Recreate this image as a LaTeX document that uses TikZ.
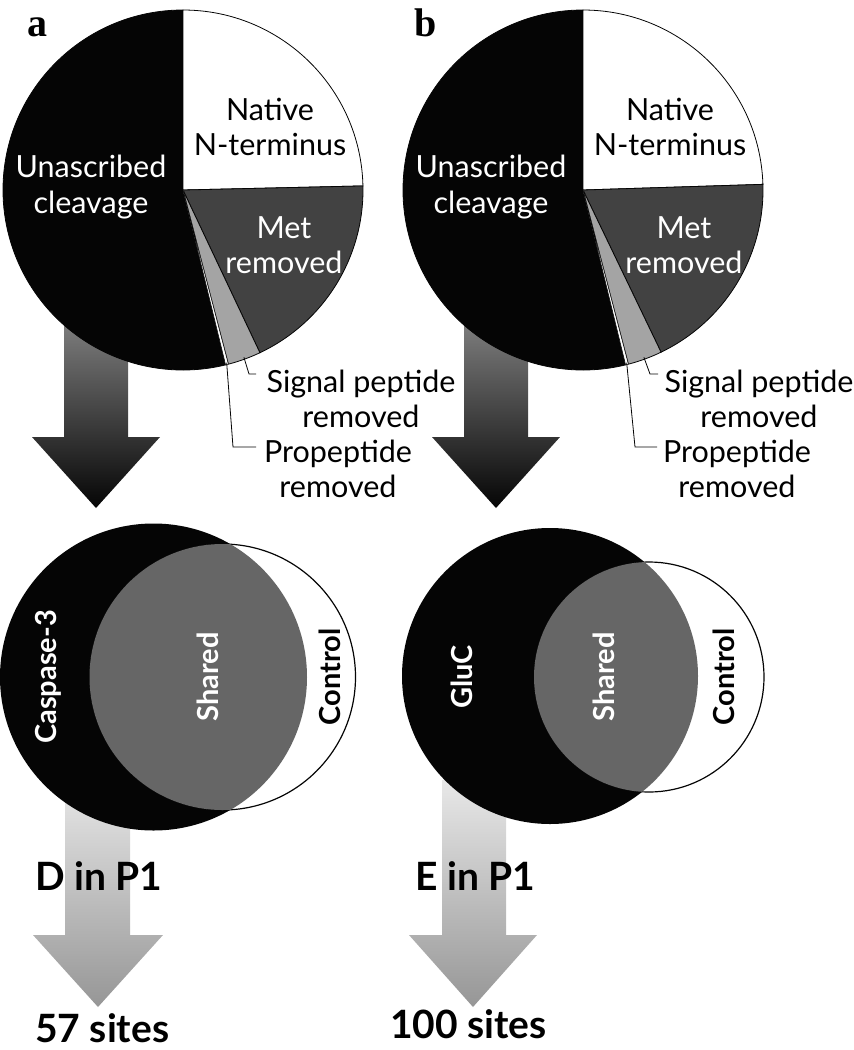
\documentclass[tikz,border=0pt]{standalone}
\usepackage{fontspec}
\setmainfont{Lato}
\newfontfamily\panelfont{Liberation Serif}
\usepackage{xcolor}
\definecolor{InkBlack}{HTML}{050505}
\definecolor{PieDark}{HTML}{424242}
\definecolor{PieLight}{HTML}{A4A4A4}
\definecolor{VennShared}{HTML}{666666}
\definecolor{ArrowDarkTop}{HTML}{8C8C8C}
\definecolor{ArrowLightTop}{HTML}{E8E8E8}
\definecolor{ArrowLightEnd}{HTML}{969696}
\usepackage{tikz}
\usetikzlibrary{positioning, calc}
\tikzset{
  % Pie styles
  slice/.style={draw=InkBlack, line width=0.8pt},
  pielabel/.style={font=\fontsize{30.5}{35.5}\selectfont, align=center, inner sep=0pt},
  leader/.style={draw=InkBlack, line width=0.8pt},
  % Venn styles
  vennlabel/.style={font=\bfseries\fontsize{29}{31}\selectfont, rotate=90, inner sep=0pt},
  % Arrow styles
  darkarrow/.style={top color=ArrowDarkTop, bottom color=InkBlack},
  lightarrow/.style={top color=ArrowLightTop, bottom color=ArrowLightEnd},
  % Text styles
  sitelabel/.style={font=\bfseries\fontsize{39}{44}\selectfont, inner sep=0pt, anchor=base west},
  panellabel/.style={font=\panelfont\bfseries\fontsize{40}{44}\selectfont, inner sep=0pt, anchor=base west}
}

\begin{document}
\begin{tikzpicture}[x=1pt, y=-1pt]
  \useasboundingbox (0,0) rectangle (854,1050);

  % Arrows from pie to Venn
  \shade[darkarrow] (64,300) -- (128,300) -- (128,437) -- (160,437) -- (96,508) -- (32,437) -- (64,437) -- cycle;
  \shade[darkarrow] (464,300) -- (528,300) -- (528,437) -- (560,437) -- (496,508) -- (432,437) -- (464,437) -- cycle;

  % Pie chart a
  \begin{scope}[shift={(183,190)}]
    \filldraw[slice, fill=InkBlack] (0,0) -- (90:180pt) arc[start angle=90, end angle=284, radius=180pt] -- cycle;
    \filldraw[slice, fill=white] (0,0) -- (1.3:180pt) arc[start angle=1.3, end angle=90, radius=180pt] -- cycle;
    \filldraw[slice, fill=PieDark] (0,0) -- (-64.7:180pt) arc[start angle=-64.7, end angle=1.3, radius=180pt] -- cycle;
    \filldraw[slice, fill=PieLight] (0,0) -- (-75.4:180pt) arc[start angle=-75.4, end angle=-64.7, radius=180pt] -- cycle;
    \filldraw[slice, line width=0.5pt, fill=white] (0,0) -- (-76.3:180pt) arc[start angle=-76.3, end angle=-75.4, radius=180pt] -- cycle;
    \coordinate (sigA) at (-70:178pt);
    \coordinate (proA) at (-75.8:178pt);
  \end{scope}

  % Pie chart b
  \begin{scope}[shift={(583,190)}]
    \filldraw[slice, fill=InkBlack] (0,0) -- (90:180pt) arc[start angle=90, end angle=284, radius=180pt] -- cycle;
    \filldraw[slice, fill=white] (0,0) -- (1.8:180pt) arc[start angle=1.8, end angle=90, radius=180pt] -- cycle;
    \filldraw[slice, fill=PieDark] (0,0) -- (-64.3:180pt) arc[start angle=-64.3, end angle=1.8, radius=180pt] -- cycle;
    \filldraw[slice, fill=PieLight] (0,0) -- (-75.4:180pt) arc[start angle=-75.4, end angle=-64.3, radius=180pt] -- cycle;
    \filldraw[slice, line width=0.5pt, fill=white] (0,0) -- (-76.3:180pt) arc[start angle=-76.3, end angle=-75.4, radius=180pt] -- cycle;
    \coordinate (sigB) at (-70:178pt);
    \coordinate (proB) at (-75.8:178pt);
  \end{scope}

  % Pie labels
  \node[pielabel] (nativeA) at (270,127) {Native\\N-terminus};
  \node[pielabel, text=white] (unascA) at (91,187) {Unascribed\\cleavage};
  \node[pielabel, text=white] (metA) at (284,245) {Met\\removed};
  \node[pielabel] (signalA) at (361,399) {Signal peptide\\removed};
  \node[pielabel] (propepA) at (338,469) {Propeptide\\removed};

  \node[pielabel] (nativeB) at (670,127) {Native\\N-terminus};
  \node[pielabel, text=white] (unascB) at (491,187) {Unascribed\\cleavage};
  \node[pielabel, text=white] (metB) at (684,245) {Met\\removed};
  \node[pielabel] (signalB) at (759,399) {Signal peptide\\removed};
  \node[pielabel] (propepB) at (737,469) {Propeptide\\removed};

  % Leader lines
  \coordinate (sigendA) at (256,374);
  \coordinate (proendA) at (256,447);
  \coordinate (sigendB) at (658,374);
  \coordinate (proendB) at (657,447);
  \draw[leader] (sigA) -- (249,374) -- (sigendA);
  \draw[leader] (proA) -- (233,447) -- (proendA);
  \draw[leader] (sigB) -- (650,374) -- (sigendB);
  \draw[leader] (proB) -- (635,447) -- (proendB);

  % Arrows from Venn to sites
  \shade[lightarrow] (65,780) -- (130,780) -- (130,935) -- (163,935) -- (98,1007) -- (33,935) -- (65,935) -- cycle;
  \shade[lightarrow] (442,780) -- (506,780) -- (506,935) -- (537,935) -- (473,1007) -- (409,935) -- (442,935) -- cycle;

  % Venn diagram a
  \fill[InkBlack] (153.5,677) circle[radius=153.5pt];
  \filldraw[fill=white, draw=InkBlack, line width=1.2pt] (222.5,677) circle[radius=133pt];
  \begin{scope}
    \clip (153.5,677) circle[radius=153.5pt];
    \fill[VennShared] (222.5,677) circle[radius=133pt];
  \end{scope}
  \node[vennlabel, text=white] (caspA) at (48,677) {Caspase-3};
  \node[vennlabel, text=white] (sharedA) at (208,677) {Shared};
  \node[vennlabel] (controlA) at (330,677) {Control};

  % Venn diagram b
  \fill[InkBlack] (550,676) circle[radius=148pt];
  \filldraw[fill=white, draw=InkBlack, line width=1.2pt] (649,677) circle[radius=115pt];
  \begin{scope}
    \clip (550,676) circle[radius=148pt];
    \fill[VennShared] (649,677) circle[radius=115pt];
  \end{scope}
  \node[vennlabel, text=white] (glucB) at (462,677) {GluC};
  \node[vennlabel, text=white] (sharedB) at (604,677) {Shared};
  \node[vennlabel] (controlB) at (724,677) {Control};

  % Site labels
  \node[sitelabel] (residueA) at (35,890) {D in P1};
  \node[sitelabel] (sitesA) at (35,1042) {57 sites};
  \node[sitelabel] (residueB) at (415,890) {E in P1};
  \node[sitelabel] (sitesB) at (390,1038) {100 sites};

  % Panel letters
  \node[panellabel] (panelA) at (27,36) {a};
  \node[panellabel] (panelB) at (414,36) {b};
\end{tikzpicture}
\end{document}
